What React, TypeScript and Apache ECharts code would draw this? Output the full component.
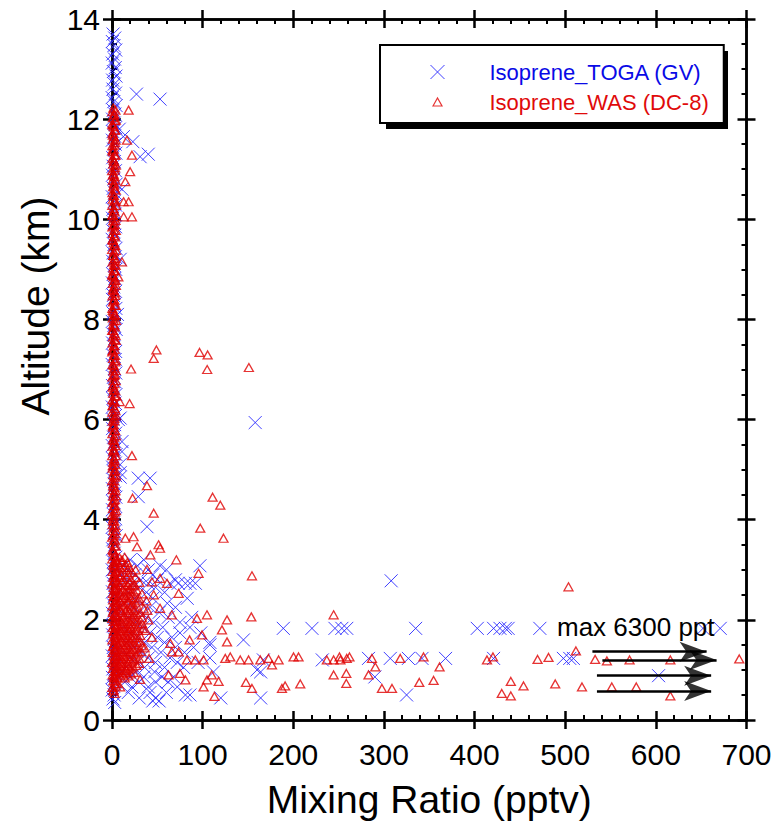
import React, { useEffect, useRef } from 'react';
import * as echarts from 'echarts';

const FONT = '"Liberation Sans", Arial, Helvetica, sans-serif';
const BLUE = '#2b2bff';
const BLUE_TEXT = '#0a0ae6';
const RED = '#e00000';
const RED_TEXT = '#e00a0a';

const xMin = 0, xMax = 700, xStep = 100;
const yMin = 0, yMax = 14, yStep = 2;

const seriesNames = ['Isoprene_TOGA (GV)', 'Isoprene_WAS (DC-8)'];

// TOGA (GV): [mixing ratio pptv, altitude km]
const togaColumn: [number, number][] = [
  [1.2,13.7],[3.0,13.62],[0.4,13.55],[2.2,13.47],[4.1,13.38],[0.9,13.3],[2.8,13.2],[0.3,13.12],[3.6,13.03],[1.5,12.95],
  [4.4,12.86],[0.7,12.78],[2.5,12.7],[1.1,12.6],[3.9,12.52],[0.2,12.43],[2.0,12.35],[4.6,12.27],[1.3,12.18],[3.2,12.1],
  [0.6,12.0],[2.4,11.92],[4.0,11.83],[1.0,11.75],[2.9,11.66],[0.4,11.58],[3.5,11.5],[1.7,11.4],[4.3,11.32],[0.8,11.23],
  [2.6,11.15],[1.2,11.06],[3.8,10.97],[0.5,10.88],[2.1,10.8],[4.5,10.7],[1.4,10.62],[3.1,10.53],[0.3,10.45],[2.7,10.36],
  [4.2,10.28],[1.0,10.2],[3.3,10.1],[0.6,10.02],[2.3,9.93],[4.0,9.85],[1.5,9.76],[3.0,9.68],[0.2,9.6],[2.2,9.5],
  [4.4,9.42],[1.1,9.33],[3.6,9.25],[0.7,9.16],[2.5,9.08],[4.1,9.0],[1.3,8.9],[3.2,8.82],[0.4,8.73],[2.0,8.65],
  [3.9,8.56],[1.6,8.48],[0.5,8.4],[2.8,8.3],[4.3,8.22],[1.0,8.13],[3.4,8.05],[0.3,7.96],[2.1,7.88],[4.6,7.8],
  [1.4,7.7],[3.0,7.62],[0.6,7.53],[2.4,7.45],[4.0,7.36],[1.2,7.28],[3.5,7.2],[0.2,7.1],[2.6,7.02],[4.2,6.93],
  [1.7,6.85],[3.1,6.76],[0.5,6.68],[2.3,6.6],[4.4,6.5],[1.0,6.42],[3.3,6.33],[0.4,6.25],[2.0,6.16],[3.8,6.08],
  [1.3,6.0],[2.9,5.9],[0.6,5.82],[4.1,5.73],[1.8,5.65],[3.2,5.56],[0.3,5.48],[2.5,5.4],[4.5,5.3],[1.1,5.22],
  [3.6,5.13],[0.7,5.05],[2.2,4.96],[4.0,4.88],[1.5,4.8],[3.0,4.7],[0.4,4.62],[2.7,4.53],[4.3,4.45],[1.2,4.36],
  [3.4,4.28],[0.5,4.2],[2.1,4.1],[3.9,4.02],[1.6,3.93],[0.3,3.85],[2.8,3.76],[4.6,3.68],[1.0,3.6],[3.1,3.5],
  [0.6,3.42],[2.4,3.33],[4.2,3.25],[1.4,3.16],[3.5,3.08],[0.2,3.0],[2.0,2.9],[4.1,2.82],[1.2,2.73],[3.3,2.65],
  [0.5,2.56],[2.6,2.48],[4.4,2.4],[1.7,2.3],[3.0,2.22],[0.4,2.13],[2.3,2.05],[4.0,1.96],[1.1,1.88],[3.6,1.8],
  [0.7,1.7],[2.5,1.62],[4.3,1.53],[1.4,1.45],[3.2,1.36],[0.3,1.28],[2.1,1.2],[3.9,1.1],[1.0,1.02],[2.8,0.93],
  [0.5,0.85],[3.4,0.76],[1.6,0.68],[0.2,0.6],[2.4,0.5],[1.1,0.42],[3.0,0.35],
  [8,11.8],[12.5,11.65],[11,10.6],[9,9.2],[6,8.1],[9,6.03],[7,6.0],[11,5.56],[11,5.36],[9,5.1],[9,4.94],[9,4.85],
];

const togaClusterRows: { alt: number; mix: number[] }[] = [
  { alt: 3.2, mix: [20, 35] },
  { alt: 3.08, mix: [12, 28, 53, 97] },
  { alt: 3.0, mix: [18, 40, 60] },
  { alt: 2.9, mix: [10, 25, 45] },
  { alt: 2.8, mix: [15, 32, 50, 70] },
  { alt: 2.73, mix: [22, 40, 64, 73, 81, 86, 92] },
  { alt: 2.65, mix: [12, 30, 48] },
  { alt: 2.55, mix: [18, 38, 58] },
  { alt: 2.43, mix: [25, 45, 83] },
  { alt: 2.33, mix: [14, 33, 61] },
  { alt: 2.25, mix: [22, 42, 70] },
  { alt: 2.15, mix: [10, 30, 52] },
  { alt: 2.05, mix: [18, 38, 62, 88] },
  { alt: 1.95, mix: [26, 46, 75] },
  { alt: 1.85, mix: [12, 34, 56, 86] },
  { alt: 1.74, mix: [20, 42, 75, 98] },
  { alt: 1.65, mix: [28, 50, 66] },
  { alt: 1.55, mix: [16, 36, 58, 108] },
  { alt: 1.45, mix: [24, 44, 70, 90] },
  { alt: 1.35, mix: [12, 32, 54, 80] },
  { alt: 1.24, mix: [20, 40, 64, 108] },
  { alt: 1.15, mix: [28, 48, 72, 95] },
  { alt: 1.05, mix: [16, 36, 58, 79] },
  { alt: 0.96, mix: [10, 27, 47, 112] },
  { alt: 0.86, mix: [20, 35, 55, 68] },
  { alt: 0.76, mix: [14, 30, 48, 62] },
  { alt: 0.66, mix: [22, 40, 72] },
  { alt: 0.55, mix: [18, 42, 60] },
  { alt: 0.5, mix: [81, 86] },
  { alt: 0.44, mix: [30, 48, 120, 164] },
  { alt: 0.38, mix: [45, 52] },
];

const togaOutliers: [number, number][] = [
  [27,12.5],[53,12.4],[23,11.55],[31,11.25],[40,11.3],
  [158,5.94],[29,4.83],[42,4.83],[29,4.46],[38.6,3.86],
  [308,2.78],[145,1.6],[108,1.5],[167,1.2],[160,1.0],[164,0.96],[232,1.2],
  [189,1.83],[220.6,1.83],[246,1.83],[253.6,1.83],[259,1.83],[335,1.83],[403,1.83],[421,1.83],[428,1.83],
  [434,1.83],[437,1.83],[472,1.83],[652,1.83],[671,1.83],
  [283,1.23],[307,1.23],[327,1.23],[342,1.23],[368,1.23],[421,1.23],[498,1.23],[505,1.23],[509,1.23],
  [290,0.86],[325,0.5],[603,0.885],
];

// WAS (DC-8)
const wasColumn: [number, number][] = [
  [1.5,12.22],[0.5,12.15],[2.6,12.1],[1.0,12.03],[3.2,11.97],[0.3,11.9],[1.9,11.85],[2.9,11.78],[0.7,11.72],[2.2,11.65],
  [1.2,11.6],[3.4,11.53],[0.4,11.47],[2.0,11.4],[1.1,11.35],[3.0,11.28],[0.6,11.22],[2.4,11.15],[1.5,11.1],[3.3,11.03],
  [0.2,10.97],[1.8,10.9],[2.8,10.85],[0.9,10.78],[2.1,10.72],[1.3,10.65],[3.1,10.6],[0.5,10.53],[2.3,10.47],[1.0,10.4],
  [3.5,10.35],[0.3,10.28],[1.7,10.22],[2.7,10.15],[0.8,10.1],[2.0,10.03],[1.4,9.97],[3.2,9.9],[0.4,9.85],[2.5,9.78],
  [1.1,9.72],[3.0,9.65],[0.6,9.6],[1.9,9.53],[2.9,9.47],[0.2,9.4],[2.2,9.35],[1.2,9.28],[3.4,9.22],[0.7,9.15],
  [2.4,9.1],[1.5,9.03],[3.1,8.97],[0.3,8.9],[1.8,8.85],[2.8,8.78],[0.9,8.72],[2.1,8.65],[1.3,8.6],[3.3,8.53],
  [0.5,8.47],[2.3,8.4],[1.0,8.35],[3.0,8.28],[0.4,8.22],[1.6,8.15],[2.6,8.1],[0.8,8.03],[2.0,7.97],[1.4,7.9],
  [3.2,7.85],[0.2,7.78],[2.5,7.72],[1.1,7.65],[2.9,7.6],[0.6,7.53],[1.9,7.47],[3.0,7.4],[0.3,7.35],[2.2,7.28],
  [1.2,7.22],[3.4,7.15],[0.7,7.1],[2.4,7.03],[1.5,6.97],[3.1,6.9],[0.4,6.85],[1.8,6.78],[2.8,6.72],[0.9,6.65],
  [2.1,6.6],[1.3,6.53],[3.3,6.47],[0.5,6.4],[2.3,6.35],[1.0,6.28],[3.0,6.22],[0.3,6.15],[1.7,6.1],[2.7,6.03],
  [0.8,5.97],[2.0,5.9],[1.4,5.85],[3.2,5.78],[0.4,5.72],[2.5,5.65],[1.1,5.6],[2.9,5.53],[0.6,5.47],[1.9,5.4],
  [3.0,5.35],[0.2,5.28],[2.2,5.22],[1.2,5.15],[3.4,5.1],[0.7,5.03],[2.4,4.97],[1.5,4.9],[3.1,4.85],[0.3,4.78],
  [1.8,4.72],[2.8,4.65],[0.9,4.6],[2.1,4.53],[1.3,4.47],[3.3,4.4],[0.5,4.35],[2.3,4.28],[1.0,4.22],[3.0,4.15],
  [0.4,4.1],[1.6,4.03],[2.6,3.97],[0.8,3.9],[2.0,3.85],[1.4,3.78],[3.2,3.72],[0.2,3.65],[2.5,3.6],[1.1,3.53],
  [2.9,3.47],[0.6,3.4],[1.9,3.35],[3.0,3.28],[0.3,3.22],[2.2,3.15],[1.2,3.1],[3.4,3.03],[0.7,2.97],[2.4,2.9],
  [1.5,2.85],[3.1,2.78],[0.4,2.72],[1.8,2.65],[2.8,2.6],[0.9,2.53],[2.1,2.47],[1.3,2.4],[3.3,2.35],[0.5,2.28],
  [2.3,2.22],[1.0,2.15],[3.0,2.1],[0.3,2.03],[1.7,1.97],[2.7,1.9],[0.8,1.85],[2.0,1.78],[1.4,1.72],[3.2,1.65],
  [0.4,1.6],[2.5,1.53],[1.1,1.47],[2.9,1.4],[0.6,1.35],[1.9,1.28],[3.0,1.22],[0.2,1.15],[2.2,1.1],[1.2,1.03],
  [3.4,0.97],[0.7,0.9],[2.4,0.85],[1.5,0.78],[3.1,0.72],[0.4,0.65],[1.8,0.6],[2.8,0.53],
];

const wasColumnB: [number, number][] = [
  [3.8,12.18],[2.0,12.08],[4.2,11.98],[1.2,11.88],[3.6,11.78],[0.8,11.68],[4.0,11.58],[2.6,11.48],[0.5,11.38],[3.9,11.28],
  [1.8,11.18],[4.3,11.08],[2.9,10.98],[0.9,10.88],[3.7,10.78],[2.4,10.68],[4.1,10.58],[1.4,10.48],[3.3,10.38],[4.4,10.28],
  [2.2,10.18],[0.6,10.08],[3.8,9.98],[1.9,9.88],[4.2,9.78],[2.7,9.68],[0.9,9.58],[3.6,9.48],[4.4,9.38],[1.6,9.28],
  [3.0,9.18],[4.0,9.08],[2.1,8.98],[0.7,8.88],[3.9,8.78],[4.3,8.68],[1.7,8.58],[3.4,8.48],[2.5,8.38],[4.1,8.28],
  [0.9,8.18],[3.7,8.08],[4.4,7.98],[2.3,7.88],[1.1,7.78],[3.8,7.68],[4.2,7.58],[2.6,7.48],[0.8,7.38],[3.5,7.28],
  [4.3,7.18],[1.9,7.08],[3.9,6.98],[2.4,6.88],[4.1,6.78],[1.2,6.68],[3.6,6.58],[4.4,6.48],[2.0,6.38],[0.7,6.28],
  [3.8,6.18],[4.2,6.08],[2.7,5.98],[1.0,5.88],[3.5,5.78],[4.3,5.68],[2.2,5.58],[3.9,5.48],[1.5,5.38],[4.0,5.28],
  [2.8,5.18],[0.9,5.08],[3.7,4.98],[4.4,4.88],[2.4,4.78],[1.2,4.68],[3.8,4.58],[4.2,4.48],[2.0,4.38],[3.5,4.28],
  [4.4,4.18],[2.6,4.08],[1.0,3.98],[3.9,3.88],[4.3,3.78],[2.1,3.68],[3.6,3.58],[4.1,3.48],[1.4,3.38],[3.8,3.28],
  [4.4,3.18],[2.5,3.08],[4.0,2.98],[3.3,2.88],[1.8,2.78],[4.2,2.68],[3.7,2.58],[2.3,2.48],[4.4,2.38],[3.1,2.28],
  [1.6,2.18],[4.0,2.08],[3.5,1.98],[4.3,1.88],[2.6,1.78],[3.9,1.68],[4.2,1.58],[1.9,1.48],[3.6,1.38],[4.4,1.28],
  [2.8,1.18],[3.8,1.08],[4.1,0.98],[2.2,0.88],[3.5,0.78],[4.3,0.68],[1.3,0.58],
];

const wasClusterRows: { alt: number; mix: number[] }[] = [
  { alt: 3.25, mix: [8, 14] },
  { alt: 3.2, mix: [4, 11] },
  { alt: 3.15, mix: [6, 11, 17] },
  { alt: 3.1, mix: [3, 15] },
  { alt: 3.05, mix: [9, 13, 19] },
  { alt: 3.0, mix: [7, 17, 26] },
  { alt: 2.95, mix: [5, 12, 22] },
  { alt: 2.9, mix: [10, 18] },
  { alt: 2.85, mix: [8, 16, 26] },
  { alt: 2.8, mix: [4, 12, 21] },
  { alt: 2.75, mix: [6, 11, 19, 30] },
  { alt: 2.7, mix: [9, 17, 25] },
  { alt: 2.68, mix: [14, 23] },
  { alt: 2.63, mix: [4, 20] },
  { alt: 2.6, mix: [7, 12, 18, 27] },
  { alt: 2.56, mix: [8, 15, 24] },
  { alt: 2.52, mix: [10, 21, 33] },
  { alt: 2.49, mix: [4, 13, 19] },
  { alt: 2.45, mix: [6, 15, 25] },
  { alt: 2.42, mix: [11, 21, 30] },
  { alt: 2.38, mix: [9, 18, 29, 38] },
  { alt: 2.34, mix: [7, 17, 26] },
  { alt: 2.3, mix: [5, 13, 22] },
  { alt: 2.26, mix: [4, 12, 21] },
  { alt: 2.22, mix: [8, 17, 26, 35] },
  { alt: 2.19, mix: [9, 15, 24, 39] },
  { alt: 2.15, mix: [11, 20, 31] },
  { alt: 2.11, mix: [4, 17, 27] },
  { alt: 2.08, mix: [6, 14, 24] },
  { alt: 2.04, mix: [12, 22, 33] },
  { alt: 2.0, mix: [9, 18, 28, 40] },
  { alt: 1.97, mix: [5, 15, 25] },
  { alt: 1.93, mix: [12, 21, 33] },
  { alt: 1.9, mix: [10, 19, 29] },
  { alt: 1.86, mix: [7, 16, 25] },
  { alt: 1.83, mix: [4, 13, 21, 34] },
  { alt: 1.79, mix: [10, 19, 29, 37] },
  { alt: 1.76, mix: [8, 17, 26] },
  { alt: 1.72, mix: [5, 14, 23] },
  { alt: 1.69, mix: [11, 20, 31] },
  { alt: 1.65, mix: [8, 17, 27, 44] },
  { alt: 1.62, mix: [4, 14, 23] },
  { alt: 1.58, mix: [11, 20, 31] },
  { alt: 1.55, mix: [9, 18, 28] },
  { alt: 1.51, mix: [6, 15, 24] },
  { alt: 1.48, mix: [12, 21, 33] },
  { alt: 1.44, mix: [9, 18, 28, 36] },
  { alt: 1.41, mix: [5, 15, 24] },
  { alt: 1.37, mix: [12, 21, 32] },
  { alt: 1.34, mix: [9, 19, 29] },
  { alt: 1.3, mix: [7, 16, 26] },
  { alt: 1.27, mix: [4, 13, 22] },
  { alt: 1.23, mix: [10, 19, 30, 41] },
  { alt: 1.2, mix: [8, 16, 25] },
  { alt: 1.16, mix: [5, 13, 22] },
  { alt: 1.13, mix: [10, 18, 30] },
  { alt: 1.09, mix: [8, 17, 27] },
  { alt: 1.06, mix: [5, 14, 23] },
  { alt: 1.02, mix: [11, 20] },
  { alt: 0.99, mix: [8, 16] },
  { alt: 0.95, mix: [6, 15, 24] },
  { alt: 0.92, mix: [4, 12, 21] },
  { alt: 0.88, mix: [9, 18] },
  { alt: 0.84, mix: [6, 14] },
];

const wasOutliers: [number, number][] = [
  [18.3,12.18],[16.5,11.58],[22,11.28],[20,10.95],[14.7,10.75],[12.8,10.35],[18.3,10.35],[22,10.05],[12.8,10.05],
  [11,9.15],[7,8.85],[49,7.39],[46,7.22],[96.6,7.34],[105.5,7.29],[21,7.01],[105,7.0],[151,7.04],[8.4,6.36],[19.4,6.32],
  [22,5.28],[38.6,4.68],[111,4.45],[22.7,4.43],[119.5,4.29],[46,4.13],[97.4,3.83],[123,3.63],[23.8,3.66],[14.7,3.63],
  [51.4,3.5],[53,3.43],[27.6,3.46],[42.3,3.3],[71,3.2],[38.6,3.01],[95.5,2.93],[154.4,2.88],[60.7,2.73],[44,2.76],
  [53,2.83],[73.5,2.53],[46,2.5],[53,2.23],[66,2.1],[93.7,2.03],[104.8,2.1],[126.9,2.0],[153.7,2.06],[244.5,2.1],
  [121.3,1.8],[99.3,1.7],[126.9,1.56],[85.6,1.6],[64.3,1.53],[73.5,1.36],[66,1.36],[82.7,1.2],[91.9,1.2],[101,1.2],
  [125,1.23],[130.5,1.26],[141.5,1.2],[150.7,1.2],[163.6,1.2],[172.7,1.23],[183.8,1.2],[200.3,1.26],[205.8,1.26],
  [237,1.2],[244.5,1.2],[252,1.2],[259,1.23],[176.5,1.1],[110,0.9],[104.8,0.8],[117.6,0.77],[101,0.66],[147.8,0.75],
  [154.4,0.63],[187.5,0.63],[191,0.68],[207.7,0.72],[244.5,0.9],[258.5,0.93],[258.5,0.73],[113,0.47],[75,0.93],
  [81,0.8],[62.4,0.9],[31,0.81],[5.5,0.73],[9,0.66],
  [503.6,2.66],[251,1.26],[262,1.26],[286.8,1.23],[290.5,1.06],[283,0.9],[297.8,0.63],[308.9,0.63],[318,1.23],
  [343.7,1.26],[361.4,1.06],[339,0.75],[354.8,0.79],[413.7,1.2],[420.3,1.26],[430,0.53],[440,0.48],[440,0.77],
  [454,0.68],[469.5,1.21],[481.6,1.25],[489,0.72],[511.8,1.38],[518.5,0.66],[533,1.21],[546,1.18],[571,1.2],
  [616,1.2],[551.4,0.66],[578.4,0.66],[616,0.48],[692,1.22],
];

// Off-scale arrows (max 6300 ppt)
const arrowAlt = [1.364, 1.198, 0.885, 0.579];
const arrowStart = [530, 541, 535, 535];
const arrowEnd = [656, 667, 661, 661];
const annotation = 'max 6300 ppt';

const X_SYMBOL = 'path://M0,0L10,10M10,0L0,10';
const TRI_LEGEND = 'path://M0,0M14,14M2.5,11L7,3L11.5,11Z';

function expand(rows: { alt: number; mix: number[] }[]): [number, number][] {
  const out: [number, number][] = [];
  rows.forEach((r) => r.mix.forEach((m) => out.push([m, r.alt])));
  return out;
}

function makeX(position: 'top' | 'bottom', inside: boolean, label: boolean) {
  return {
    type: 'value', position, min: xMin, max: xMax, interval: xStep,
    axisLine: { show: true, onZero: false, lineStyle: { color: '#000', width: 2.5 } },
    axisTick: { show: true, inside, length: 9, lineStyle: { color: '#000', width: 2.5 } },
    minorTick: { show: inside, splitNumber: 5, length: 5, lineStyle: { color: '#000', width: 2 } },
    axisLabel: { show: label, fontSize: 30, fontFamily: FONT, color: '#000', margin: 19 },
    splitLine: { show: false }, minorSplitLine: { show: false },
    name: label ? 'Mixing Ratio (pptv)' : '',
    nameLocation: 'middle', nameGap: 60,
    nameTextStyle: { fontSize: 39, fontFamily: FONT, color: '#000' },
  };
}
function makeY(position: 'left' | 'right', inside: boolean, label: boolean) {
  return {
    type: 'value', position, min: yMin, max: yMax, interval: yStep,
    axisLine: { show: true, onZero: false, lineStyle: { color: '#000', width: 2.5 } },
    axisTick: { show: true, inside, length: 9, lineStyle: { color: '#000', width: 2.5 } },
    minorTick: { show: inside, splitNumber: 4, length: 5, lineStyle: { color: '#000', width: 2 } },
    axisLabel: { show: label, fontSize: 30, fontFamily: FONT, color: '#000', margin: 12 },
    splitLine: { show: false }, minorSplitLine: { show: false },
  };
}

export default function App() {
  const ref = useRef<HTMLDivElement>(null);
  useEffect(() => {
    if (!ref.current) return;
    const chart = echarts.init(ref.current, undefined, { renderer: 'svg' });
    const toga = [...togaColumn, ...expand(togaClusterRows), ...togaOutliers];
    const was = [...wasColumn, ...wasColumnB, ...expand(wasClusterRows), ...wasOutliers];
    chart.setOption({
      animation: false,
      backgroundColor: '#fff',
      grid: { left: 112, top: 19, right: 32.5, bottom: 109 },
      xAxis: [makeX('bottom', false, true), makeX('bottom', true, false), makeX('top', false, false), makeX('top', true, false)],
      yAxis: [makeY('left', false, true), makeY('left', true, false), makeY('right', false, false), makeY('right', true, false)],
      legend: {
        left: 380, top: 45, orient: 'vertical', z: 6,
        padding: [16, 15, 10, 48], itemGap: 8, itemWidth: 14, itemHeight: 14,
        backgroundColor: '#fff', borderColor: '#000', borderWidth: 2,
        selectedMode: false,
        textStyle: { fontSize: 22, fontFamily: FONT, padding: [0, 0, 0, 40] },
        data: [
          { name: seriesNames[0], icon: X_SYMBOL, itemStyle: { color: 'none', borderColor: BLUE, borderWidth: 1 }, textStyle: { color: BLUE_TEXT, fontSize: 22, fontFamily: FONT, padding: [0, 0, 0, 40] } },
          { name: seriesNames[1], icon: TRI_LEGEND, itemStyle: { color: 'none', borderColor: RED, borderWidth: 1.2 }, textStyle: { color: RED_TEXT, fontSize: 22, fontFamily: FONT, padding: [0, 0, 0, 40] } },
        ],
      },
      graphic: [
        { type: 'rect', z: 5, shape: { x: 386, y: 51, width: 342, height: 78 }, style: { fill: '#000' } },
        { type: 'text', x: 35, y: 306, rotation: Math.PI / 2, style: { text: 'Altitude (km)', font: `39px ${FONT}`, fill: '#000', textAlign: 'center', textVerticalAlign: 'middle' } },
        { type: 'text', x: 557, y: 627, z: 10, style: { text: annotation, font: `26px ${FONT}`, fill: '#000', textAlign: 'left', textVerticalAlign: 'middle' } },
      ],
      series: [
        {
          name: seriesNames[0], type: 'scatter', silent: true, xAxisIndex: 0, yAxisIndex: 0,
          symbol: X_SYMBOL, symbolSize: 13,
          itemStyle: { color: 'none', borderColor: BLUE, borderWidth: 1, opacity: 0.9 },
          data: toga,
        },
        {
          name: seriesNames[1], type: 'scatter', silent: true, xAxisIndex: 0, yAxisIndex: 0,
          symbol: 'triangle', symbolSize: [9, 8],
          itemStyle: { color: 'none', borderColor: RED, borderWidth: 1.3 },
          data: was,
        },
        {
          type: 'lines', coordinateSystem: 'cartesian2d', xAxisIndex: 0, yAxisIndex: 0, silent: true, z: 8,
          symbol: 'none',
          lineStyle: { color: '#000', width: 2.5, opacity: 1, curveness: 0 },
          data: arrowAlt.map((a, i) => ({ coords: [[arrowStart[i], a], [arrowEnd[i], a]] })),
        },
        {
          type: 'scatter', xAxisIndex: 0, yAxisIndex: 0, silent: true, z: 9,
          symbol: 'arrow', symbolRotate: -90, symbolSize: [15, 27],
          itemStyle: { color: '#000' },
          data: arrowAlt.map((a, i) => [arrowEnd[i], a]),
        },
      ],
    });
    return () => chart.dispose();
  }, []);
  return <div ref={ref} style={{ position: 'fixed', left: 0, top: 0, width: 779, height: 829 }} />;
}
